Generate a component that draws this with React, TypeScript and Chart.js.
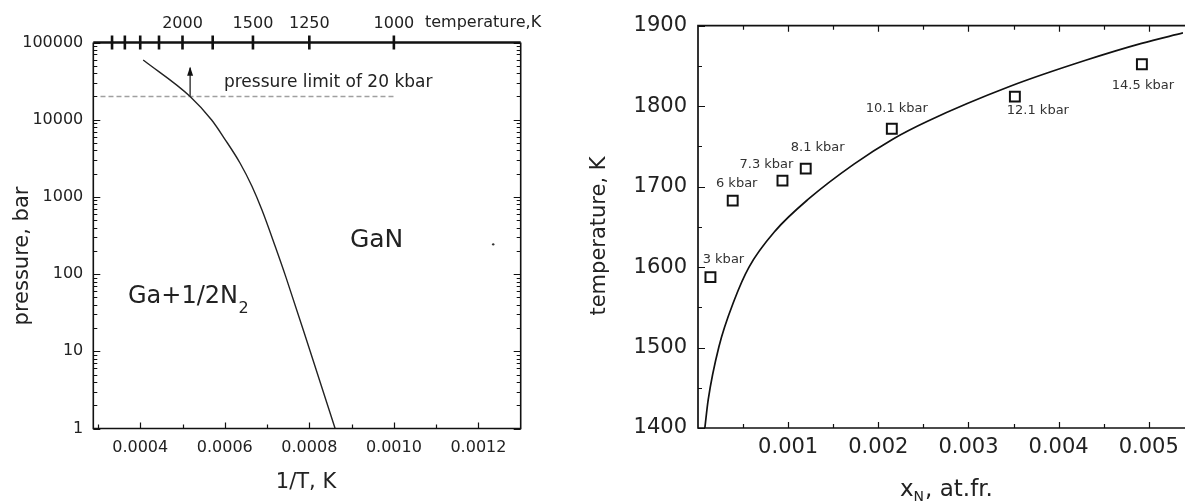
import React, { useEffect, useRef } from 'react';
import { Chart, registerables } from 'chart.js';

Chart.register(...registerables);

const FONT = 'DejaVu Sans';
const INK = '#111';
const TEXT = '#222';

// ---------- Left panel: pressure vs 1/T ----------
const invTCurve = [0.000407, 0.000518, 0.000569, 0.0006, 0.000636, 0.000664, 0.000688, 0.000719, 0.000745, 0.000802, 0.000861];
const pressureCurve = [59300, 20000, 9900, 5620, 2750, 1383, 676, 231, 90, 10, 1];
const limitInvT = [0.000306, 0.001];
const limitPressure = [20000, 20000];
const arrowInvT = [0.000518, 0.000518];
const arrowPressure = [20000, 47000];
const dotInvT = [0.001235];
const dotPressure = [243];
const pressureTicks = [1, 10, 100, 1000, 10000, 100000];
const invTTicks = [0.0004, 0.0006, 0.0008, 0.001, 0.0012];
const invTMinorTicks = [0.0003, 0.0005, 0.0007, 0.0009, 0.0011];
const tempTopTicks = [3000, 2750, 2500, 2250, 2000, 1750, 1500, 1250, 1000];
const tempTopLabels = [2000, 1500, 1250, 1000];

// ---------- Right panel: temperature vs x_N ----------
const xNCurve = [0.000076, 0.000113, 0.000232, 0.000403, 0.000566, 0.000857, 0.00123, 0.00173, 0.00216, 0.00254, 0.00347, 0.0043, 0.00492, 0.00538];
const tempCurve = [1400, 1435, 1501, 1559, 1600, 1645, 1685, 1728, 1759, 1781, 1825, 1857, 1878, 1891];
const xNPoints = [0.000138, 0.000385, 0.000937, 0.001195, 0.00215, 0.003515, 0.004924];
const tempPoints = [1587.5, 1682.6, 1707.5, 1722.4, 1772, 1811.8, 1852];
const pressureLabels = ['3 kbar', '6 kbar', '7.3 kbar', '8.1 kbar', '10.1 kbar', '12.1 kbar', '14.5 kbar'];
const xNTicks = [0.001, 0.002, 0.003, 0.004, 0.005];
const xNMinorTicks = [0.0005, 0.0015, 0.0025, 0.0035, 0.0045];
const tempTicks = [1400, 1500, 1600, 1700, 1800, 1900];
const tempMinorTicks = [1450, 1550, 1650, 1750, 1850];

// label offsets (pixels) relative to each square marker
const labelOffsets: [number, number][] = [[13, -18], [4, -17], [-16, -16], [12, -21], [5, -20], [23, 14], [1, 21]];

const zip = (xs: number[], ys: number[]) => xs.map((x, i) => ({ x, y: ys[i] }));

function xTickMarks(ctx: CanvasRenderingContext2D, scale: any, values: number[], yBase: number, len: number) {
  ctx.beginPath();
  values.forEach((v) => {
    const px = Math.round(scale.getPixelForValue(v)) + 0.5;
    ctx.moveTo(px, yBase);
    ctx.lineTo(px, yBase + len);
  });
  ctx.stroke();
}

function yTickMarks(ctx: CanvasRenderingContext2D, scale: any, values: number[], xBase: number, len: number) {
  ctx.beginPath();
  values.forEach((v) => {
    const py = Math.round(scale.getPixelForValue(v)) + 0.5;
    ctx.moveTo(xBase, py);
    ctx.lineTo(xBase + len, py);
  });
  ctx.stroke();
}

const logMinor: number[] = [];
for (let d = 1; d < 100000; d *= 10) for (let m = 2; m <= 9; m++) logMinor.push(d * m);

const leftDecor = {
  id: 'leftDecor',
  afterDraw(chart: any) {
    const { ctx, chartArea: a, scales } = chart;
    const sx = scales.x;
    const sy = scales.y;
    ctx.save();
    ctx.strokeStyle = INK;
    ctx.lineWidth = 1.2;
    xTickMarks(ctx, sx, invTTicks, a.bottom, -6);
    xTickMarks(ctx, sx, invTMinorTicks, a.bottom, -4);
    yTickMarks(ctx, sy, pressureTicks, a.left, 7);
    yTickMarks(ctx, sy, logMinor, a.left, 4);
    yTickMarks(ctx, sy, pressureTicks, a.right, -7);
    yTickMarks(ctx, sy, logMinor, a.right, -4);
    ctx.lineWidth = 1.6;
    ctx.beginPath();
    ctx.moveTo(a.left, a.top);
    ctx.lineTo(a.left, a.bottom);
    ctx.lineTo(a.right, a.bottom);
    ctx.lineTo(a.right, a.top);
    ctx.stroke();
    ctx.lineWidth = 2.4;
    ctx.beginPath();
    ctx.moveTo(a.left, a.top);
    ctx.lineTo(a.right, a.top);
    ctx.stroke();
    // temperature crosses on the top axis
    ctx.lineWidth = 2.6;
    ctx.beginPath();
    tempTopTicks.forEach((t) => {
      const px = sx.getPixelForValue(1 / t);
      ctx.moveTo(px, a.top - 7);
      ctx.lineTo(px, a.top + 7);
    });
    ctx.stroke();
    // arrowhead
    const tip = chart.getDatasetMeta(2).data[1];
    if (tip) {
      ctx.fillStyle = INK;
      ctx.beginPath();
      ctx.moveTo(tip.x, tip.y - 1);
      ctx.lineTo(tip.x - 3, tip.y + 8);
      ctx.lineTo(tip.x + 3, tip.y + 8);
      ctx.closePath();
      ctx.fill();
    }
    ctx.fillStyle = TEXT;
    ctx.textBaseline = 'middle';
    ctx.textAlign = 'left';
    ctx.font = `17px "${FONT}"`;
    ctx.fillText('pressure limit of 20 kbar', sx.getPixelForValue(0.000598), sy.getPixelForValue(29900));
    ctx.font = `16px "${FONT}"`;
    ctx.fillText('temperature,K', 425, 23);
    ctx.textBaseline = 'alphabetic';
    ctx.font = `25px "${FONT}"`;
    ctx.fillText('GaN', sx.getPixelForValue(0.000896), sy.getPixelForValue(224));
    const gx = sx.getPixelForValue(0.000371);
    const gy = sy.getPixelForValue(42.7);
    ctx.font = `24px "${FONT}"`;
    ctx.fillText('Ga+1/2N', gx, gy);
    const w = ctx.measureText('Ga+1/2N').width;
    ctx.font = `16px "${FONT}"`;
    ctx.fillText('2', gx + w + 0.5, gy + 10);
    ctx.textAlign = 'center';
    ctx.textBaseline = 'middle';
    ctx.font = `21px "${FONT}"`;
    ctx.fillText('1/T, K', 306, 483);
    ctx.save();
    ctx.translate(22.5, 256);
    ctx.rotate(-Math.PI / 2);
    ctx.font = `21px "${FONT}"`;
    ctx.fillText('pressure, bar', 0, 0);
    ctx.restore();
    ctx.restore();
  },
};

const rightDecor = {
  id: 'rightDecor',
  afterDraw(chart: any) {
    const { ctx, chartArea: a, scales } = chart;
    const sx = scales.x;
    const sy = scales.y;
    ctx.save();
    ctx.strokeStyle = INK;
    ctx.lineWidth = 1.2;
    xTickMarks(ctx, sx, xNTicks, a.bottom, -6);
    xTickMarks(ctx, sx, xNMinorTicks, a.bottom, -4);
    xTickMarks(ctx, sx, xNTicks, a.top, 6);
    xTickMarks(ctx, sx, xNMinorTicks, a.top, 4);
    yTickMarks(ctx, sy, tempTicks, a.left, 7);
    yTickMarks(ctx, sy, tempMinorTicks, a.left, 4);
    ctx.lineWidth = 1.7;
    ctx.beginPath();
    ctx.moveTo(a.right + 2, a.top);
    ctx.lineTo(a.left, a.top);
    ctx.lineTo(a.left, a.bottom);
    ctx.lineTo(a.right + 2, a.bottom);
    ctx.stroke();
    const meta = chart.getDatasetMeta(1);
    ctx.fillStyle = '#333';
    ctx.font = `13px "${FONT}"`;
    ctx.textAlign = 'center';
    ctx.textBaseline = 'middle';
    meta.data.forEach((pt: any, i: number) => {
      const [dx, dy] = labelOffsets[i];
      ctx.fillText(pressureLabels[i], pt.x + dx, pt.y + dy);
    });
    ctx.fillStyle = TEXT;
    ctx.save();
    ctx.translate(20, 236);
    ctx.rotate(-Math.PI / 2);
    ctx.font = `21px "${FONT}"`;
    ctx.fillText('temperature, K', 0, 0);
    ctx.restore();
    ctx.textAlign = 'left';
    ctx.textBaseline = 'alphabetic';
    let tx = 320;
    const base = 496;
    ctx.font = `23px "${FONT}"`;
    ctx.fillText('x', tx, base);
    tx += ctx.measureText('x').width;
    ctx.font = `14px "${FONT}"`;
    ctx.fillText('N', tx, base + 5);
    tx += ctx.measureText('N').width + 1;
    ctx.font = `23px "${FONT}"`;
    ctx.fillText(', at.fr.', tx, base);
    ctx.restore();
  },
};

function leftConfig(): any {
  return {
    type: 'line',
    data: {
      datasets: [
        {
          data: zip(invTCurve, pressureCurve),
          borderColor: '#222',
          borderWidth: 1.4,
          pointRadius: 0,
          cubicInterpolationMode: 'monotone',
          fill: false,
        },
        {
          data: zip(limitInvT, limitPressure),
          borderColor: '#a0a0a0',
          borderWidth: 1.6,
          borderDash: [5, 3],
          pointRadius: 0,
          fill: false,
        },
        {
          data: zip(arrowInvT, arrowPressure),
          borderColor: INK,
          borderWidth: 1.2,
          pointRadius: 0,
          fill: false,
        },
        {
          data: zip(dotInvT, dotPressure),
          showLine: false,
          pointRadius: 1.2,
          pointBorderWidth: 0,
          pointBackgroundColor: '#333',
        },
      ],
    },
    options: {
      animation: false,
      responsive: true,
      maintainAspectRatio: false,
      events: [],
      layout: { padding: { left: 0, right: 59.3, top: 0, bottom: 0 } },
      plugins: { legend: { display: false }, tooltip: { enabled: false } },
      scales: {
        x: {
          type: 'linear',
          position: 'bottom',
          min: 0.000289,
          max: 0.0013,
          afterBuildTicks: (s: any) => { s.ticks = invTTicks.map((value) => ({ value })); },
          afterFit: (s: any) => { s.height = 75.5; },
          grid: { display: false, drawTicks: false },
          border: { display: false },
          ticks: {
            autoSkip: false,
            maxRotation: 0,
            minRotation: 0,
            padding: 9.5,
            color: TEXT,
            font: { family: FONT, size: 16 },
            callback: (v: number) => v.toFixed(4),
          },
        },
        xTop: {
          type: 'linear',
          position: 'top',
          min: 0.000289,
          max: 0.0013,
          afterBuildTicks: (s: any) => { s.ticks = tempTopLabels.map((t) => ({ value: 1 / t })); },
          afterFit: (s: any) => { s.height = 42.5; },
          grid: { display: false, drawTicks: false },
          border: { display: false },
          ticks: {
            autoSkip: false,
            maxRotation: 0,
            minRotation: 0,
            padding: 9,
            color: TEXT,
            font: { family: FONT, size: 16 },
            callback: (v: number) => String(Math.round(1 / v)),
          },
        },
        y: {
          type: 'logarithmic',
          position: 'left',
          min: 1,
          max: 100000,
          afterBuildTicks: (s: any) => { s.ticks = pressureTicks.map((value) => ({ value })); },
          afterFit: (s: any) => { s.width = 93.3; },
          grid: { display: false, drawTicks: false },
          border: { display: false },
          ticks: {
            padding: 10,
            color: TEXT,
            font: { family: FONT, size: 16 },
            callback: (v: number) => String(v),
          },
        },
      },
    },
    plugins: [leftDecor],
  };
}

function rightConfig(): any {
  return {
    type: 'line',
    data: {
      datasets: [
        {
          data: zip(xNCurve, tempCurve),
          borderColor: INK,
          borderWidth: 1.7,
          pointRadius: 0,
          cubicInterpolationMode: 'monotone',
          fill: false,
        },
        {
          data: zip(xNPoints, tempPoints),
          showLine: false,
          pointStyle: 'rect',
          pointRadius: 7,
          pointBorderWidth: 2,
          pointBorderColor: INK,
          pointBackgroundColor: '#fff',
        },
      ],
    },
    options: {
      animation: false,
      responsive: true,
      maintainAspectRatio: false,
      events: [],
      layout: { padding: { left: 0, right: 0, top: 25.7, bottom: 0 } },
      plugins: { legend: { display: false }, tooltip: { enabled: false } },
      scales: {
        x: {
          type: 'linear',
          position: 'bottom',
          min: 0,
          max: 0.00538,
          afterBuildTicks: (s: any) => { s.ticks = xNTicks.map((value) => ({ value })); },
          afterFit: (s: any) => { s.height = 76; },
          grid: { display: false, drawTicks: false },
          border: { display: false },
          ticks: {
            autoSkip: false,
            maxRotation: 0,
            minRotation: 0,
            padding: 6.5,
            color: TEXT,
            font: { family: FONT, size: 21 },
            callback: (v: number) => v.toFixed(3),
          },
        },
        y: {
          type: 'linear',
          position: 'left',
          min: 1400,
          max: 1900,
          afterBuildTicks: (s: any) => { s.ticks = tempTicks.map((value) => ({ value })); },
          afterFit: (s: any) => { s.width = 118; },
          grid: { display: false, drawTicks: false },
          border: { display: false },
          ticks: {
            padding: 11,
            color: TEXT,
            font: { family: FONT, size: 21 },
            callback: (v: number) => String(v),
          },
        },
      },
    },
    plugins: [rightDecor],
  };
}

export default function App() {
  const leftRef = useRef<HTMLCanvasElement>(null);
  const rightRef = useRef<HTMLCanvasElement>(null);
  useEffect(() => {
    document.body.style.margin = '0';
    const c1 = new Chart(leftRef.current as HTMLCanvasElement, leftConfig());
    const c2 = new Chart(rightRef.current as HTMLCanvasElement, rightConfig());
    return () => {
      c1.destroy();
      c2.destroy();
    };
  }, []);
  return (
    <div style={{ position: 'relative', width: 1192, height: 504, overflow: 'hidden', background: '#fff' }}>
      <div style={{ position: 'absolute', left: 0, top: 0, width: 580, height: 504 }}>
        <canvas ref={leftRef} />
      </div>
      <div style={{ position: 'absolute', left: 580, top: 0, width: 612, height: 504 }}>
        <canvas ref={rightRef} />
      </div>
    </div>
  );
}
